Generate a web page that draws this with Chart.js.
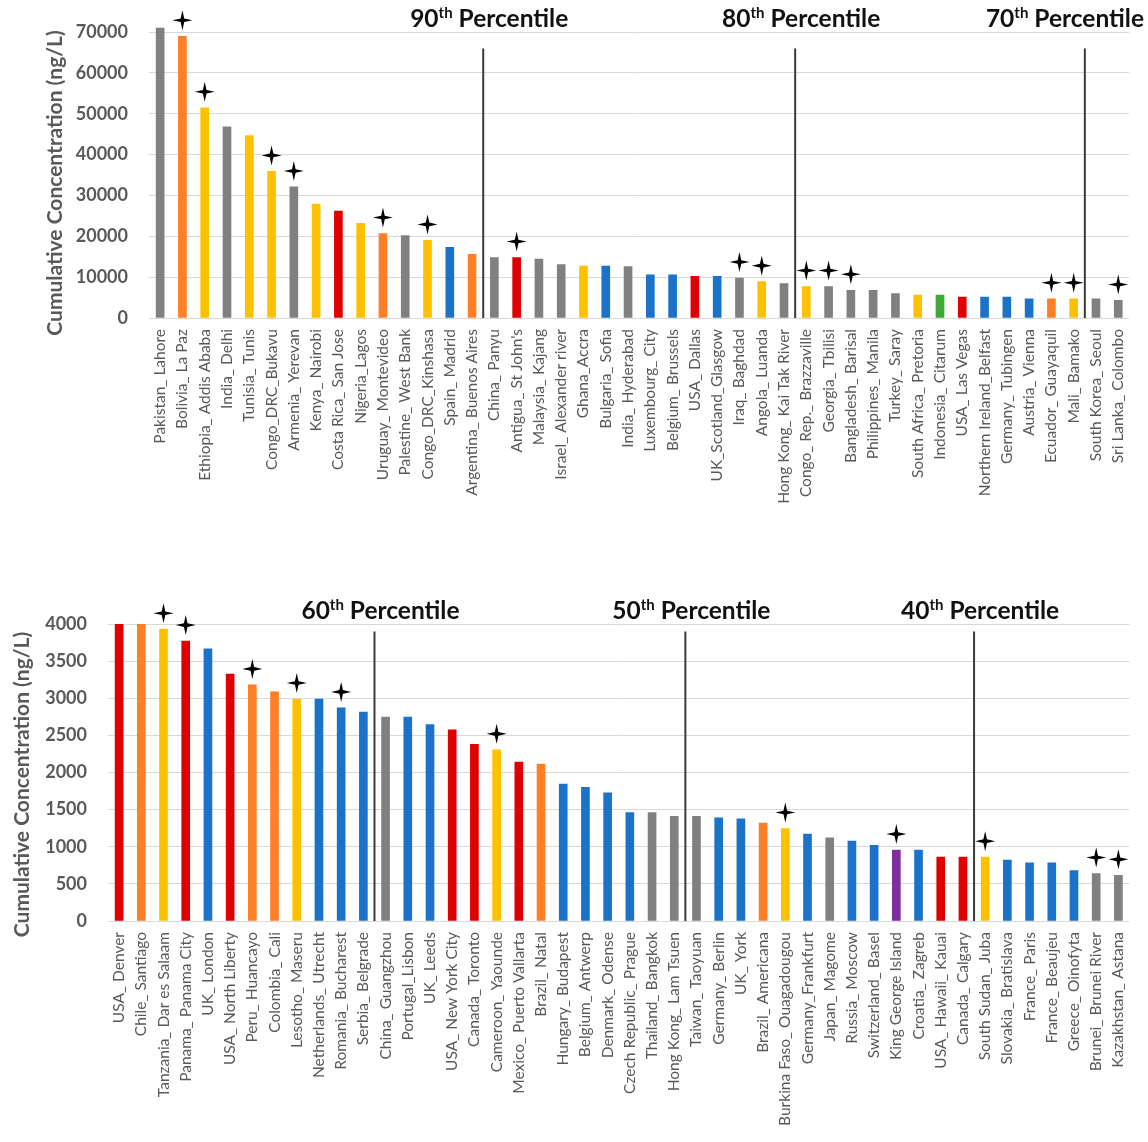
<!DOCTYPE html>
<html>
<head>
<meta charset="utf-8">
<script src="https://cdn.jsdelivr.net/npm/chart.js@4.4.1/dist/chart.umd.min.js"></script>
<style>
  html, body { margin: 0; padding: 0; background: #ffffff; }
  #wrap { position: relative; width: 1148px; height: 1142px; overflow: hidden; }
  .panel { position: absolute; left: 0; width: 1148px; }
  #p1 { top: 0; height: 560px; }
  #p2 { top: 590px; height: 552px; }
</style>
</head>
<body>
<div id="wrap">
  <div class="panel" id="p1"><canvas id="c1"></canvas></div>
  <div class="panel" id="p2"><canvas id="c2"></canvas></div>
</div>
<script>
// ---- Upper panel: sites above the 70th percentile (ng/L) ----
const upperSites = [
  "Pakistan_ Lahore", "Bolivia_ La Paz", "Ethiopia_ Addis Ababa", "India_ Delhi", "Tunisia_ Tunis",
  "Congo_DRC_Bukavu", "Armenia_ Yerevan", "Kenya_ Nairobi", "Costa Rica_ San Jose", "Nigeria_Lagos",
  "Uruguay_ Montevideo", "Palestine_ West Bank", "Congo_DRC_Kinshasa", "Spain_ Madrid", "Argentina_ Buenos Aires",
  "China_ Panyu", "Antigua_ St John's", "Malaysia_ Kajang", "Israel_ Alexander river", "Ghana_Accra",
  "Bulgaria_ Sofia", "India_ Hyderabad", "Luxembourg_ City", "Belgium_ Brussels", "USA_ Dallas",
  "UK_Scotland_Glasgow", "Iraq_ Baghdad", "Angola_ Luanda", "Hong Kong_ Kai Tak River", "Congo_ Rep._ Brazzaville",
  "Georgia_ Tbilisi", "Bangladesh_ Barisal", "Philippines_ Manila", "Turkey_ Saray", "South Africa_ Pretoria",
  "Indonesia_ Citarum", "USA_ Las Vegas", "Northern Ireland_Belfast", "Germany_ Tubingen", "Austria_ Vienna",
  "Ecuador_ Guayaquil", "Mali_ Bamako", "South Korea_ Seoul", "Sri Lanka_ Colombo"
];
const upperValues = [
  71000, 69000, 51500, 46800, 44700,
  35900, 32100, 27900, 26200, 23200,
  20700, 20200, 19000, 17300, 15600,
  14800, 14800, 14400, 13100, 12700,
  12700, 12600, 10600, 10600, 10200,
  10200, 9800, 8900, 8400, 7700,
  7700, 6800, 6800, 6000, 5600,
  5600, 5100, 5100, 5100, 4700,
  4700, 4700, 4700, 4300
];
const upperRegions = [
  "Asia", "South America", "Africa", "Asia", "Africa",
  "Africa", "Asia", "Africa", "North America", "Africa",
  "South America", "Asia", "Africa", "Europe", "South America",
  "Asia", "North America", "Asia", "Asia", "Africa",
  "Europe", "Asia", "Europe", "Europe", "North America",
  "Europe", "Asia", "Africa", "Asia", "Africa",
  "Asia", "Asia", "Asia", "Asia", "Africa",
  "Oceania", "North America", "Europe", "Europe", "Europe",
  "South America", "Africa", "Asia", "Asia"
];
// sites marked with a star
const upperStarred = [
  "Bolivia_ La Paz", "Ethiopia_ Addis Ababa", "Congo_DRC_Bukavu", "Armenia_ Yerevan", "Uruguay_ Montevideo",
  "Congo_DRC_Kinshasa", "Antigua_ St John's", "Iraq_ Baghdad", "Angola_ Luanda", "Congo_ Rep._ Brazzaville",
  "Georgia_ Tbilisi", "Bangladesh_ Barisal", "Ecuador_ Guayaquil", "Mali_ Bamako", "Sri Lanka_ Colombo"
];
const upperTicks = [0, 10000, 20000, 30000, 40000, 50000, 60000, 70000];
const upperAxisMax = 72000;
// percentile boundaries: number of sites ranked above each cut
const upperCuts = [15, 29, 42];
const upperCutLabels = ["90", "80", "70"];
const upperCutLineTop = 66000;

// ---- Lower panel: sites between the 70th and 40th percentile (ng/L) ----
const lowerSites = [
  "USA_ Denver", "Chile_ Santiago", "Tanzania_ Dar es Salaam", "Panama_ Panama City", "UK_ London",
  "USA_ North Liberty", "Peru_ Huancayo", "Colombia_ Cali", "Lesotho_ Maseru", "Netherlands_ Utrecht",
  "Romania_ Bucharest", "Serbia_ Belgrade", "China_ Guangzhou", "Portugal_Lisbon", "UK_ Leeds",
  "USA_ New York City", "Canada_ Toronto", "Cameroon_ Yaounde", "Mexico_ Puerto Vallarta", "Brazil_ Natal",
  "Hungary_ Budapest", "Belgium_ Antwerp", "Denmark_ Odense", "Czech Republic_ Prague", "Thailand_ Bangkok",
  "Hong Kong_ Lam Tsuen", "Taiwan_ Taoyuan", "Germany_ Berlin", "UK_ York", "Brazil_ Americana",
  "Burkina Faso_ Ouagadougou", "Germany_Frankfurt", "Japan_ Magome", "Russia_ Moscow", "Switzerland_ Basel",
  "King George Island", "Croatia_ Zagreb", "USA_ Hawaii_ Kauai", "Canada_ Calgary", "South Sudan_ Juba",
  "Slovakia_ Bratislava", "France_ Paris", "France_ Beaujeu", "Greece_ Oinofyta", "Brunei_ Brunei River",
  "Kazakhstan_ Astana"
];
const lowerValues = [
  4000, 4000, 3930, 3770, 3665,
  3325, 3180, 3085, 2990, 2990,
  2870, 2815, 2745, 2745, 2645,
  2575, 2380, 2305, 2140, 2115,
  1845, 1800, 1725, 1460, 1460,
  1410, 1410, 1390, 1375, 1320,
  1245, 1170, 1120, 1075, 1020,
  955, 955, 860, 860, 860,
  820, 785, 785, 680, 640,
  615
];
const lowerRegions = [
  "North America", "South America", "Africa", "North America", "Europe",
  "North America", "South America", "South America", "Africa", "Europe",
  "Europe", "Europe", "Asia", "Europe", "Europe",
  "North America", "North America", "Africa", "North America", "South America",
  "Europe", "Europe", "Europe", "Europe", "Asia",
  "Asia", "Asia", "Europe", "Europe", "South America",
  "Africa", "Europe", "Asia", "Europe", "Europe",
  "Antarctica", "Europe", "North America", "North America", "Africa",
  "Europe", "Europe", "Europe", "Europe", "Asia",
  "Asia"
];
const lowerStarred = [
  "Tanzania_ Dar es Salaam", "Panama_ Panama City", "Peru_ Huancayo", "Lesotho_ Maseru", "Romania_ Bucharest",
  "Cameroon_ Yaounde", "Burkina Faso_ Ouagadougou", "King George Island", "South Sudan_ Juba",
  "Brunei_ Brunei River", "Kazakhstan_ Astana"
];
const lowerTicks = [0, 500, 1000, 1500, 2000, 2500, 3000, 3500, 4000];
const lowerAxisMax = 4000;
const lowerCuts = [12, 26, 39];
const lowerCutLabels = ["60", "50", "40"];
const lowerCutLineTop = 3900;

const yAxisTitle = "Cumulative Concentration (ng/L)";

// ---- styling ----
const regionColor = {
  "Asia": "#808080",
  "South America": "#ff7f27",
  "Africa": "#ffc000",
  "North America": "#e00000",
  "Europe": "#1a73c9",
  "Oceania": "#3daa35",
  "Antarctica": "#7f2ea0"
};
const FONT = "Lato, 'Open Sans', 'DejaVu Sans', sans-serif";
const TEXT_GREY = "#595959";

function drawStar(ctx, cx, cy) {
  const r = 10, w = 1.8;
  ctx.beginPath();
  ctx.moveTo(cx, cy - r);
  ctx.lineTo(cx + w, cy - w);
  ctx.lineTo(cx + r, cy);
  ctx.lineTo(cx + w, cy + w);
  ctx.lineTo(cx, cy + r);
  ctx.lineTo(cx - w, cy + w);
  ctx.lineTo(cx - r, cy);
  ctx.lineTo(cx - w, cy - w);
  ctx.closePath();
  ctx.fillStyle = "#000000";
  ctx.fill();
}

function drawPercentileLabel(ctx, chart, centerX, y, num) {
  const big = "bold 24.5px " + FONT, small = "bold 15px " + FONT;
  ctx.font = big;
  const wNum = ctx.measureText(num).width;
  const wWord = ctx.measureText(" Percentile").width;
  ctx.font = small;
  const wSup = ctx.measureText("th").width;
  const total = wNum + wSup + wWord;
  let left = centerX - total / 2;
  if (left + total > chart.width - 4) left = chart.width - 4 - total;
  ctx.fillStyle = "#111111";
  ctx.textAlign = "left";
  ctx.textBaseline = "alphabetic";
  ctx.font = big;
  ctx.fillText(num, left, y);
  ctx.font = small;
  ctx.fillText("th", left + wNum, y - 9);
  ctx.font = big;
  ctx.fillText(" Percentile", left + wNum + wSup, y);
}

const percentileOverlay = {
  id: "percentileOverlay",
  afterDatasetsDraw(chart, args, opts) {
    const { ctx, chartArea } = chart;
    const x = chart.scales.x, y = chart.scales.y;
    const meta = chart.getDatasetMeta(0);
    ctx.save();
    // value axis title, drawn rotated beside the tick labels
    ctx.translate(opts.titleX, (chartArea.top + chartArea.bottom) / 2 + 12);
    ctx.rotate(-Math.PI / 2);
    ctx.font = "bold 21px " + FONT;
    ctx.fillStyle = TEXT_GREY;
    ctx.textAlign = "center";
    ctx.textBaseline = "middle";
    ctx.fillText(yAxisTitle, 0, 0);
    ctx.restore();

    ctx.save();
    opts.starred.forEach(name => {
      const i = chart.data.labels.indexOf(name);
      if (i < 0) return;
      const bar = meta.data[i];
      drawStar(ctx, bar.x, bar.y - 16);
    });
    const topTick = y.ticks[y.ticks.length - 1].value;
    opts.cuts.forEach((c, k) => {
      const px = (x.getPixelForValue(c - 1) + x.getPixelForValue(c)) / 2;
      ctx.strokeStyle = "#3a3a3a";
      ctx.lineWidth = 2;
      ctx.beginPath();
      ctx.moveTo(px, y.getPixelForValue(0));
      ctx.lineTo(px, y.getPixelForValue(opts.lineTop));
      ctx.stroke();
      drawPercentileLabel(ctx, chart, px + 6, y.getPixelForValue(topTick) - 5, opts.labels[k]);
    });
    ctx.restore();
  }
};

function buildChart(canvasId, cfg) {
  return new Chart(document.getElementById(canvasId), {
    type: "bar",
    data: {
      labels: cfg.sites,
      datasets: [{
        data: cfg.values,
        backgroundColor: cfg.regions.map(r => regionColor[r]),
        borderWidth: 0,
        barThickness: 8
      }]
    },
    options: {
      responsive: true,
      maintainAspectRatio: false,
      animation: false,
      events: [],
      layout: { padding: { top: cfg.padTop, right: cfg.padRight, left: 0, bottom: 0 } },
      plugins: {
        legend: { display: false },
        tooltip: { enabled: false },
        percentileOverlay: {
          starred: cfg.starred, cuts: cfg.cuts, labels: cfg.cutLabels,
          lineTop: cfg.lineTop, titleX: cfg.titleX
        }
      },
      scales: {
        x: {
          grid: { display: false, drawTicks: false },
          border: { display: false },
          afterFit(scale) { scale.height = cfg.xAxisHeight; },
          ticks: {
            autoSkip: false,
            maxRotation: 90,
            minRotation: 90,
            padding: 11,
            color: TEXT_GREY,
            font: { family: FONT, size: 15.5 }
          }
        },
        y: {
          min: 0,
          max: cfg.axisMax,
          afterBuildTicks(scale) { scale.ticks = cfg.ticks.map(v => ({ value: v })); },
          afterFit(scale) { scale.width = cfg.yAxisWidth; },
          // invisible tick marks keep the labels clear of the plot edge
          grid: { color: "#d9d9d9", lineWidth: 1, drawTicks: true, tickLength: 17, tickColor: "rgba(0,0,0,0)" },
          border: { display: false },
          ticks: {
            padding: 4,
            color: TEXT_GREY,
            font: { family: FONT, size: 18, weight: "bold" },
            callback: v => String(v)
          },
          title: { display: false }
        }
      }
    },
    plugins: [percentileOverlay]
  });
}

function render() {
  buildChart("c1", {
    sites: upperSites, values: upperValues, regions: upperRegions, starred: upperStarred,
    ticks: upperTicks, axisMax: upperAxisMax, cuts: upperCuts, cutLabels: upperCutLabels, lineTop: upperCutLineTop,
    padTop: 24, padRight: 13, yAxisWidth: 149, xAxisHeight: 242, titleX: 55
  });
  buildChart("c2", {
    sites: lowerSites, values: lowerValues, regions: lowerRegions, starred: lowerStarred,
    ticks: lowerTicks, axisMax: lowerAxisMax, cuts: lowerCuts, cutLabels: lowerCutLabels, lineTop: lowerCutLineTop,
    padTop: 34, padRight: 0, yAxisWidth: 108, xAxisHeight: 221, titleX: 22
  });
}

if (document.fonts && document.fonts.load) {
  Promise.all([
    document.fonts.load("bold 20px Lato"),
    document.fonts.load("13px Lato")
  ]).then(render, render);
} else {
  render();
}
</script>
</body>
</html>
